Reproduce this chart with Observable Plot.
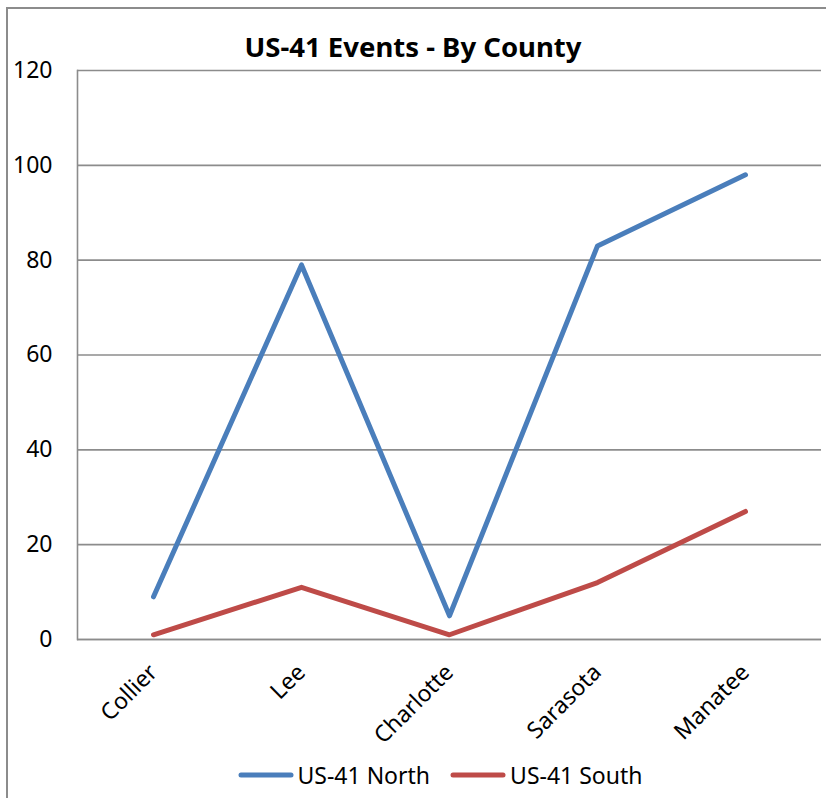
<!DOCTYPE html>
<html>
<head>
<meta charset="utf-8">
<script src="https://cdn.jsdelivr.net/npm/d3@7"></script>
<script src="https://cdn.jsdelivr.net/npm/@observablehq/plot@0.6"></script>
<style>
  html, body { margin: 0; padding: 0; background: #fff; }
  #wrap { position: relative; width: 826px; height: 798px; overflow: hidden; font-family: "Noto Sans", sans-serif; }
  #frame { position: absolute; left: 6px; top: 7px; width: 1000px; height: 1000px; border: 2px solid #8c8c8c; box-sizing: border-box; }
  #title { position: absolute; left: 0; top: 33px; width: 826px; text-align: center; font-weight: bold; font-size: 27.5px; line-height: 27px; color: #000; }
  #chart { position: absolute; left: 0; top: 60px; }
  #legend { position: absolute; left: 27px; top: 761px; width: 826px; display: flex; justify-content: center; align-items: center; font-size: 23px; line-height: 28px; color: #000; }
  .item { display: flex; align-items: center; margin: 0 10px; }
  .sw { width: 56px; height: 10px; margin-right: 4px; }
</style>
</head>
<body>
<div id="wrap">
  <div id="frame"></div>
  <div id="title">US-41 Events - By County</div>
  <div id="chart"></div>
  <div id="legend"></div>
</div>
<script>
const counties = ["Collier", "Lee", "Charlotte", "Sarasota", "Manatee"];
const north = [9, 79, 5, 83, 98];
const south = [1, 11, 1, 12, 27];
const seriesNames = ["US-41 North", "US-41 South"];
const seriesColors = ["#4A7EBB", "#BE4B48"];
const yTicks = [0, 20, 40, 60, 80, 100, 120];

const data = [];
counties.forEach((c, i) => {
  data.push({county: c, series: seriesNames[0], value: north[i]});
  data.push({county: c, series: seriesNames[1], value: south[i]});
});

const chart = Plot.plot({
  width: 826,
  height: 700,
  marginLeft: 77,
  marginRight: 5,
  marginTop: 10,
  marginBottom: 121,
  style: {fontFamily: "Noto Sans, sans-serif", fontSize: "23px", color: "#000", background: "transparent", overflow: "visible"},
  x: {type: "point", domain: counties, padding: 0.5, label: null},
  y: {domain: [0, 120], label: null},
  color: {domain: seriesNames, range: seriesColors},
  marks: [
    Plot.gridY(yTicks, {stroke: "#8c8c8c", strokeOpacity: 1, strokeWidth: 1.6}),
    Plot.frame({anchor: "left", stroke: "#8c8c8c", strokeWidth: 1.6}),
    Plot.ruleY([0], {stroke: "#8c8c8c", strokeWidth: 1.6}),
    Plot.axisY(yTicks, {tickSize: 0, tickPadding: 25, fontSize: 23, label: null}),
    Plot.axisX({tickSize: 0, tickPadding: 29, tickRotate: -45, fontSize: 23, label: null}),
    Plot.line(data, {x: "county", y: "value", z: "series", stroke: "series", strokeWidth: 5, strokeLinecap: "round", strokeLinejoin: "round"})
  ]
});
document.getElementById("chart").appendChild(chart);

const legend = document.getElementById("legend");
seriesNames.forEach((name, i) => {
  const item = document.createElement("div");
  item.className = "item";
  item.innerHTML = `<svg class="sw" viewBox="0 0 56 10"><line x1="3" y1="5" x2="53" y2="5" stroke="${seriesColors[i]}" stroke-width="5" stroke-linecap="round"/></svg><span>${name}</span>`;
  legend.appendChild(item);
});
</script>
</body>
</html>
